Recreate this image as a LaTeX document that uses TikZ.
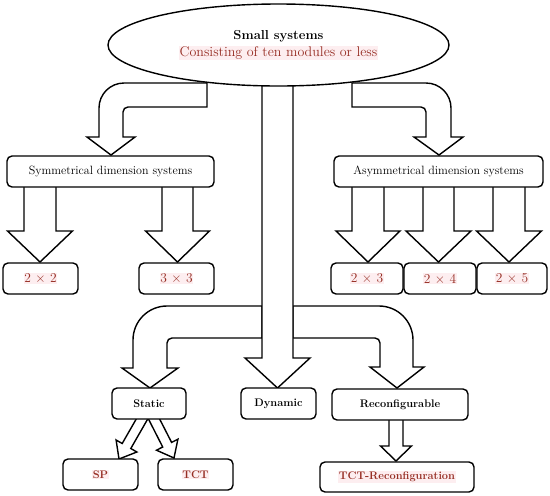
\documentclass[tikz,border=0pt]{standalone}
\usetikzlibrary{shapes.geometric}
\definecolor{redtext}{RGB}{150,45,35}
\definecolor{hlpink}{RGB}{253,238,240}
\newcommand\hlt[1]{{\setlength{\fboxsep}{0.8pt}\colorbox{hlpink}{#1}}}
\newcommand\dnarrow[6]{\draw[barrow] ({#1-#2},#4) -- ({#1-#2},#5) -- ({#1-#3},#5) -- (#1,#6) -- ({#1+#3},#5) -- ({#1+#2},#5) -- ({#1+#2},#4) -- cycle;}
\begin{document}
\begin{tikzpicture}[x=1pt,y=-1pt,
  barrow/.style={draw=black, fill=white, line width=1.4pt},
  box/.style={draw=black, fill=white, rounded corners=5pt, line width=1.4pt, minimum height=31pt, inner sep=0pt},
  boxtxt/.style={font=\fontsize{12}{14}\selectfont},
  boldtxt/.style={font=\fontsize{11}{13}\selectfont\bfseries},
  redbold/.style={font=\fontsize{11}{13}\selectfont\bfseries, text=redtext},
  rednum/.style={font=\fontsize{13.5}{15}\selectfont, text=redtext}]
\useasboundingbox[fill=white] (0,0) rectangle (550,496);

% upper curved arrows
\draw[barrow] (207,83) -- (207,107) -- (128,107) .. controls (125.24,107) and (123,109.24) .. (123,112) -- (123,137) -- (135,137) -- (111,155) -- (87,137) -- (99,137) -- (99,108) .. controls (99,94.2) and (110.2,83) .. (124,83) -- cycle;
\draw[barrow] (352,83) -- (352,107) -- (421,107) .. controls (423.76,107) and (426,109.24) .. (426,112) -- (426,137) -- (414,137) -- (439,155) -- (463,137) -- (451,137) -- (451,108) .. controls (451,94.2) and (439.8,83) .. (426,83) -- cycle;

% lower curved arrows
\draw[barrow] (262,306) -- (167,306) .. controls (148.2,306) and (133,321.2) .. (133,340) -- (133,368) -- (122,368) -- (150,388) -- (178,368) -- (167,368) -- (167,343) .. controls (167,340.24) and (169.24,338) .. (172,338) -- (262,338) -- cycle;
\draw[barrow] (293,306) -- (379,306) .. controls (397.8,306) and (413,321.2) .. (413,340) -- (413,367) -- (424,367) -- (397,388) -- (370,367) -- (380,367) -- (380,343) .. controls (380,340.24) and (377.76,338) .. (375,338) -- (293,338) -- cycle;

% central arrow
\dnarrow{277.5}{15.5}{32.5}{70}{358}{388}

% symmetrical / asymmetrical arrows
\dnarrow{40}{16}{32.5}{180}{231}{262}
\dnarrow{177.5}{15.5}{32}{180}{231}{262}
\dnarrow{368}{16}{32}{180}{231}{262}
\dnarrow{438.5}{15.5}{32.5}{180}{231}{262}
\dnarrow{509}{16}{32.5}{180}{231}{262}

% reconfigurable arrow
\dnarrow{396}{7}{15.5}{415}{446}{461}

% static diagonal arrows
\draw[barrow] (139.7,413.0) -- (122.2,443.5) -- (116.1,440.0) -- (119,459) -- (136.9,452.0) -- (130.8,448.5) -- (148.3,418.0) -- cycle;
\draw[barrow] (147.8,417.7) -- (162.7,447.0) -- (156.5,450.2) -- (174,458) -- (177.9,439.2) -- (171.6,442.4) -- (156.6,413.1) -- cycle;

% nodes
\node[ellipse, draw=black, fill=white, line width=1.4pt, minimum width=341pt, minimum height=82pt, inner sep=0pt, align=center] (top) at (278.5,45)
  {{\fontsize{13}{15}\selectfont\bfseries Small systems}\\[3pt]
   {\fontsize{14}{16}\selectfont\color{redtext}\hlt{Consisting of ten modules or less}}};

\node[box, boxtxt, minimum width=207pt] (sym) at (110.5,171.5) {Symmetrical dimension systems};
\node[box, boxtxt, minimum width=209pt] (asym) at (438.5,171.5) {Asymmetrical dimension systems};

\node[box, rednum, minimum width=75pt] (s22) at (40.5,278.5) {\hlt{2 × 2}};
\node[box, rednum, minimum width=75pt] (s33) at (176.5,278.5) {\hlt{3 × 3}};
\node[box, rednum, minimum width=72pt] (a23) at (367,278.5) {\hlt{2 × 3}};
\node[box, rednum, minimum width=72pt] (a24) at (440,278.5) {\hlt{2 × 4}};
\node[box, rednum, minimum width=70pt] (a25) at (512,278.5) {\hlt{2 × 5}};

\node[box, boldtxt, minimum width=74pt] (static) at (149,403.5) {Static};
\node[box, boldtxt, minimum width=75pt] (dynamic) at (278.5,403.5) {Dynamic};
\node[box, boldtxt, minimum width=136pt] (reconf) at (400,404.5) {Reconfigurable};

\node[box, redbold, minimum width=75pt] (sp) at (100.5,474.5) {\hlt{SP}};
\node[box, redbold, minimum width=75pt] (tct) at (195.5,474.5) {\hlt{TCT}};
\node[box, redbold, minimum width=154pt, minimum height=30pt] (tctr) at (397,477) {\hlt{TCT-Reconfiguration}};
\end{tikzpicture}
\end{document}
